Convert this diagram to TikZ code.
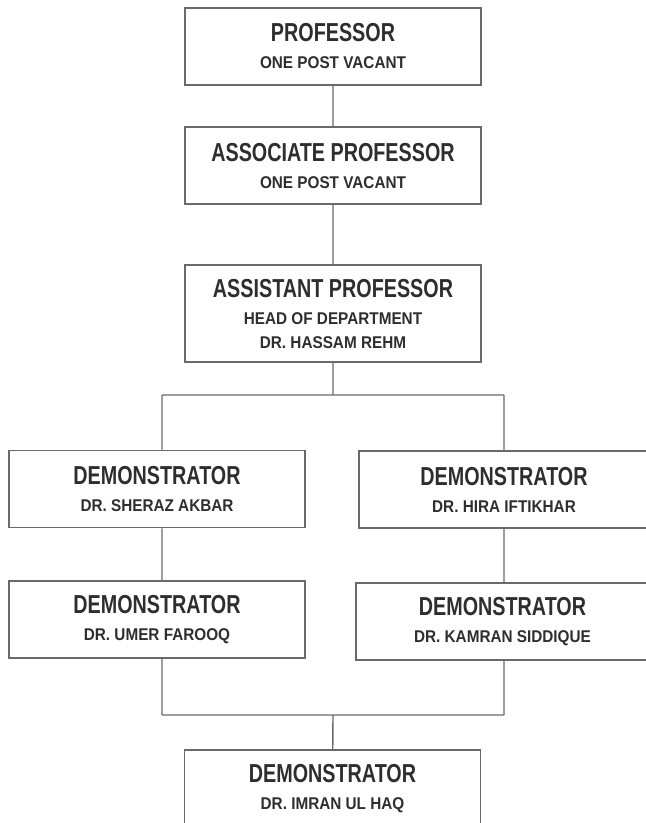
\documentclass[tikz,border=0pt]{standalone}
\usepackage{fontspec}
\newfontfamily\headfamily[FakeStretch=0.76]{Liberation Sans}
\newfontfamily\namefamily[FakeStretch=0.9]{Liberation Sans}
\newcommand{\headfont}{\headfamily\bfseries\fontsize{26}{24}\selectfont}
\newcommand{\namefont}{\namefamily\bfseries\fontsize{17}{24}\selectfont}
\definecolor{inkgray}{HTML}{2E2E2E}
\definecolor{rulegray}{HTML}{6A6A6A}
\begin{document}
\begin{tikzpicture}[x=1pt,y=-1pt,line width=1.6pt,
    post/.style={draw=rulegray,fill=white,text=inkgray,inner sep=0pt,font=\namefont,
                 align=center,minimum width=296pt,minimum height=77pt}]
      \useasboundingbox (0,0) rectangle (646,823);

      \node[post] (P)  at (333,46.5)  {\headfont PROFESSOR\\[3pt]\namefont ONE POST VACANT};
      \node[post] (AP) at (333,165.5) {\headfont ASSOCIATE PROFESSOR\\[3pt]\namefont ONE POST VACANT};
      \node[post,minimum height=97pt] (AS) at (333,313.5)
            {\headfont ASSISTANT PROFESSOR\\[3pt]\namefont HEAD OF DEPARTMENT\\\namefont DR. HASSAM REHM};

      \node[post] (D1) at (157,489)   {\headfont DEMONSTRATOR\\[3pt]\namefont DR. SHERAZ AKBAR};
      \node[post,minimum width=290pt] (D2) at (504,489.5) {\headfont DEMONSTRATOR\\[3pt]\namefont DR. HIRA IFTIKHAR};
      \node[post] (D3) at (157,619.5) {\headfont DEMONSTRATOR\\[3pt]\namefont DR. UMER FAROOQ};
      \node[post,minimum width=293pt] (D4) at (502.5,621.5) {\headfont DEMONSTRATOR\\[3pt]\namefont DR. KAMRAN SIDDIQUE};
      \node[post] (D5) at (332.5,788.5) {\headfont DEMONSTRATOR\\[3pt]\namefont DR. IMRAN UL HAQ};

      \coordinate (split) at (333,395);
      \coordinate (L) at (162,395);
      \coordinate (R) at (504,395);
      \coordinate (join) at (333,715);
      \coordinate (LB) at (162,715);
      \coordinate (RB) at (504,715);

      \draw[rulegray,line width=1.4pt]
                   (P)  -- (AP)
                   (AP) -- (AS)
                   (AS) -- (split)
                   (L)  -- (R)
                   (L)  -- (L |- D1.north)
                   (R)  -- (D2)
                   (LB |- D1.south) -- (LB |- D3.north)
                   (R |- D2.south)  -- (R |- D4.north)
                   (LB |- D3.south) -- (LB)
                   (LB) -- (RB)
                   (RB) -- (RB |- D4.south)
                   (join) -- (D5);
    \end{tikzpicture}
\end{document}
